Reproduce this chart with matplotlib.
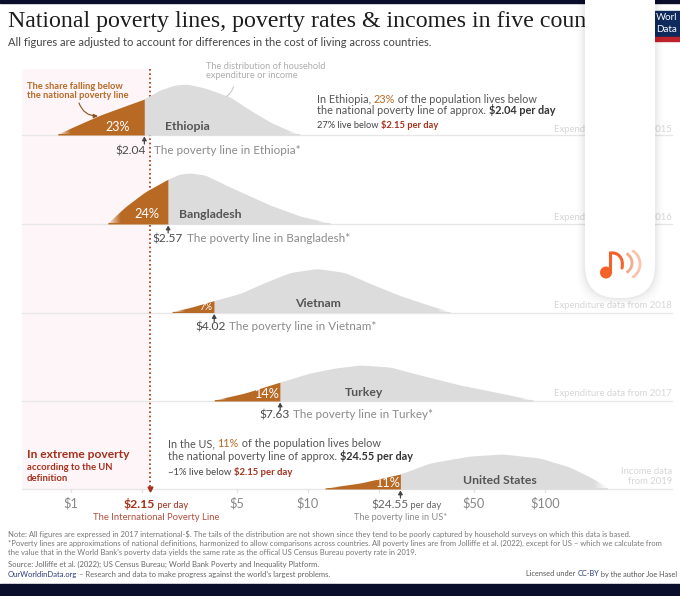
#!/usr/bin/env python3
# -*- coding: utf-8 -*-
import numpy as np
import matplotlib
matplotlib.use("Agg")
import matplotlib.pyplot as plt
from matplotlib.colors import to_rgb
from matplotlib.patches import FancyBboxPatch, Rectangle, Arc, Circle, PathPatch
from matplotlib.path import Path

countries = ["Ethiopia", "Bangladesh", "Vietnam", "Turkey", "United States"]
poverty_lines = [2.04, 2.57, 4.02, 7.63, 24.55]
poverty_rates = ["23%", "24%", "7%", "14%", "11%"]
data_notes = ["Expenditure data from 2015", "Expenditure data from 2016", "Expenditure data from 2018",
              "Expenditure data from 2017", "Income data\nfrom 2019"]

# income ($/day) and height of the density
eth_income = [0.88, 1.02, 1.33, 1.69, 2.04, 2.37, 2.75, 3.08, 3.68, 4.69, 5.69, 6.91, 8.4, 9.25]
eth_height = [1, 8, 20, 29, 36, 45, 50, 51, 47, 38, 25, 13, 4, 1]
bgd_income = [1.43, 1.69, 2.05, 2.57, 2.88, 3.18, 3.68, 4.69, 5.69, 6.91, 9.25, 12.4]
bgd_height = [1, 17, 32, 45, 50, 51, 49, 37, 28, 19, 8, 1]
vnm_income = [2.67, 3.18, 4.02, 5.16, 6.58, 8.39, 10.9, 14.3, 18.3, 24.4, 32.7, 39.7]
vnm_height = [1, 5, 12, 19, 30, 40, 44, 40, 29, 17, 7, 1]
tur_income = [4.02, 5.42, 7.63, 10.2, 13.0, 16.6, 22.2, 29.7, 43.8, 64.6, 89.0]
tur_height = [1, 8, 19, 28, 33, 36, 34, 26, 16, 8, 1]
usa_income = [11.8, 16.6, 24.55, 32.7, 48.3, 66.5, 95.0, 127.0, 155.0, 183.0]
usa_height = [1, 6, 15, 26, 33, 35, 31, 22, 12, 2]
incomes = [eth_income, bgd_income, vnm_income, tur_income, usa_income]
heights = [eth_height, bgd_height, vnm_height, tur_height, usa_height]

tick_values = [1, 2, 5, 10, 20, 50, 100]
tick_labels = {1: "$1", 5: "$5", 10: "$10", 50: "$50", 100: "$100"}
ipl = 2.15

# layout
W, H = 680, 596
baselines = [135, 224, 312.5, 401, 489]
GREY = "#dcdcdc"
BROWN = "#b86a25"
RED = "#a5301c"
DARK = "#4a4a4a"
MID = "#8a8a8a"
NAVY = "#0b0e2a"
PINK = "#fdf5f7"
FONT = "Lato"

plt.rcParams["font.family"] = [FONT, "DejaVu Sans"]
fig = plt.figure(figsize=(W / 100, H / 100), dpi=100)

# income axis: log scale, $1 at x=71 and $100 at x=545
ax = fig.add_axes([0, 0, 1, 1])
ax.set_xscale("log")
ax.set_xlim(10 ** (-71 / 237), 10 ** ((W - 71) / 237))
ax.set_ylim(H, 0)
ax.axis("off")

# pixel layer for the text
ov = fig.add_axes([0, 0, 1, 1])
ov.axis("off")
ov.patch.set_alpha(0)

ax.axvspan(10 ** ((22 - 71) / 237), ipl, ymin=1 - baselines[-1] / H, ymax=1 - 69 / H, color=PINK, lw=0, zorder=0)


def to_px(income):
    return ax.transData.transform((income, 0))[0]


def tail_fade(x0, x1, y0, y1, bg, rising):
    # bg coloured gradient over the end of a ridge
    img = np.zeros((1, 64, 4))
    img[..., :3] = to_rgb(bg)
    img[..., 3] = np.linspace(1, 0, 64) if rising else np.linspace(0, 1, 64)
    ov.imshow(img, extent=(x0, x1, y0, y1), aspect="auto", interpolation="bilinear", zorder=3)


def draw_ridge(inc, hgt, line, base):
    # smoothed only for drawing, the values stay the ones in the lists
    lx = np.log10(inc)
    g = np.union1d(np.linspace(lx[0], lx[-1], 400), [np.log10(line)])
    h = np.interp(g, lx, hgt)
    k = 13
    pad = np.r_[np.full(k, h[0]), h, np.full(k, h[-1])]
    h = np.convolve(pad, np.ones(k) / k, mode="same")[k:-k]
    x = 10 ** g
    low = g <= np.log10(line) + 1e-9
    high = g >= np.log10(line) - 1e-9
    ax.fill_between(x[low], base, base - h[low], color=BROWN, lw=0, zorder=3)
    ax.fill_between(x[high], base, base - h[high], color=GREY, lw=0, zorder=3)
    left, right = to_px(inc[0]), to_px(inc[-1])
    bg = PINK if inc[0] < ipl else "white"
    tail_fade(left - 1, left + 13, base - 0.6, base - 12, bg, True)
    tail_fade(right - 13, right + 1, base - 0.6, base - 12, "white", False)


for inc, hgt, line, base in zip(incomes, heights, poverty_lines, baselines):
    draw_ridge(inc, hgt, line, base)
    ax.plot([10 ** ((22 - 71) / 237), 10 ** ((672 - 71) / 237)], [base, base], color="#e6e6e6", lw=0.9, zorder=1)
    ax.annotate("", xy=(line, base + 1.5), xytext=(line, base + 9),
                arrowprops=dict(arrowstyle="-|>,head_width=0.13,head_length=0.22", color="#444444", lw=0.9, shrinkA=0, shrinkB=0),
                zorder=4)

ov.set_xlim(0, W)
ov.set_ylim(H, 0)

# ticks under the last baseline
for v in tick_values:
    ax.plot([v, v], [489, 492], color="#e2e2e2", lw=0.9, zorder=1)

# international poverty line, it runs behind the ridges
ax.plot([ipl, ipl], [69, 489], color=RED, lw=1.2, ls=(0, (1, 1.6)), zorder=2)
ax.plot([ipl], [489], marker="v", ms=3.5, color=RED, zorder=5)


def T(x, y, s, size=9, color=DARK, weight="normal", ha="left", va="center", **kw):
    return ov.text(x, y, s, fontsize=size, color=color, fontweight=weight, ha=ha, va=va, **kw)


def runs(x, y, parts, size=9):
    # several colours on one line, a part may bring its own size
    r = fig.canvas.get_renderer()
    inv = ov.transData.inverted()
    for part in parts:
        s, color, weight = part[:3]
        fs = part[3] if len(part) > 3 else size
        t = T(x, y, s, size=fs, color=color, weight=weight, va="baseline")
        bb = t.get_window_extent(r)
        x = inv.transform((bb.x1, 0))[0]


# title and subtitle
T(8, 22, "National poverty lines, poverty rates & incomes in five countries", size=17.2, color="#1d1d1d",
  family=["Liberation Serif", "DejaVu Serif"], clip_on=True)
T(8, 42, "All figures are adjusted to account for differences in the cost of living across countries.", size=8, color="#444444")

# percent labels and names inside the ridges
pct_pos = [(118, 127, 9), (147, 214.5, 9.2), (206, 308, 6.8), (266, 394, 9.2), (387, 483, 9.2)]
name_pos = [(165, 127, "left"), (179, 214.5, "left"), (295, 303.5, "left"), (345, 392, "left"), (500, 481, "center")]
for pct, (px, py, fs), name, (nx, ny, nha) in zip(poverty_rates, pct_pos, countries, name_pos):
    T(px, py, pct, size=fs, color="white", ha="center", zorder=6)
    T(nx, ny, name, size=8.8, color="#555555", weight="bold", ha=nha, zorder=6)

# poverty line labels
line_pos = [(146, 151, 154), (183, 239, 187), (226, 327, 229), (290, 415, 293)]
for line, name, (vx, vy, lx) in zip(poverty_lines, countries, line_pos):
    T(vx, vy, f"${line:.2f}", size=8.6, color=DARK, ha="right")
    T(lx, vy, f"The poverty line in {name}*", size=8.4, color=MID)

# data notes on the right
note_y = [129, 218, 306, 394, 476.5]
for note, y in zip(data_notes, note_y):
    T(672, y, note, size=6.85, color="#d6d6d6", ha="right", linespacing=1.15)

# annotations
T(206, 71, "The distribution of household\nexpenditure or income", size=6.7, color="#adadad", linespacing=1.1)
ov.annotate("", xy=(224, 98), xytext=(234, 84),
            arrowprops=dict(arrowstyle="-", color="#c4c4c4", lw=0.7, connectionstyle="arc3,rad=-0.25"))
T(27, 91, "The share falling below\nthe national poverty line", size=6.7, color=BROWN, weight="bold", linespacing=1.1)
ov.annotate("", xy=(98, 116), xytext=(79, 103),
            arrowprops=dict(arrowstyle="-|>,head_width=0.12,head_length=0.25", color="#8a5220", lw=0.8,
                            connectionstyle="arc3,rad=0.35", shrinkA=0, shrinkB=0))

T(27, 455, "In extreme poverty", size=8.65, color=RED, weight="bold")
T(27, 467.5, "according to the UN", size=6.8, color=RED, weight="bold")
T(27, 478.5, "definition", size=6.8, color=RED, weight="bold")

runs(317, 103, [("In Ethiopia, ", "#555555", "normal"), ("23%", BROWN, "normal"),
                (" of the population lives below", "#555555", "normal")], size=7.8)
runs(317, 114, [("the national poverty line of approx. ", "#555555", "normal"), ("$2.04 per day", "#333333", "bold")], size=7.8)
runs(317, 128.5, [("27% live below ", "#444444", "normal"), ("$2.15 per day", RED, "bold")], size=6.7)
runs(168, 447, [("In the US, ", "#555555", "normal"), ("11%", BROWN, "normal"),
                (" of the population lives below", "#555555", "normal")], size=7.8)
runs(168, 460, [("the national poverty line of approx. ", "#555555", "normal"), ("$24.55 per day", "#333333", "bold")], size=7.8)
runs(168, 475, [("~1% live below ", "#444444", "normal"), ("$2.15 per day", RED, "bold")], size=6.8)

# axis labels
for v, lab in tick_labels.items():
    T(to_px(v), 503.5, lab, size=9.2, color="#888888", ha="center")
runs(124, 508, [("$2.15", RED, "bold", 8.8), (" per day", RED, "normal", 6.8)])
T(156, 517.5, "The International Poverty Line", size=6.8, color=RED, ha="center", alpha=0.85)
runs(371, 508, [("$24.55", "#666666", "normal", 8.6), (" per day", "#666666", "normal", 6.8)])
T(400.5, 517.5, "The poverty line in US*", size=6.6, color=MID, ha="center")

# notes
note_lines = [
    "Note: All figures are expressed in 2017 international-$. The tails of the distribution are not shown since they tend to be poorly captured by household surveys on which this data is based.",
    "*Poverty lines are approximations of national definitions, harmonized to allow comparisons across countries. All poverty lines are from Jolliffe et al. (2022), except for US – which we calculate from",
    "the value that in the World Bank's poverty data yields the same rate as the offical US Census Bureau poverty rate in 2019.",
]
for y, s in zip([534, 543, 552], note_lines):
    T(8, y, s, size=5.47, color="#777777")
T(8, 564, "Source: Jolliffe et al. (2022); US Census Bureau; World Bank Poverty and Inequality Platform.", size=5.5, color="#666666")
runs(8, 576.5, [("OurWorldinData.org", "#2b3a7a", "normal"),
                (" – Research and data to make progress against the world's largest problems.", "#666666", "normal")], size=5.5)
runs(526, 576.5, [("Licensed under ", "#555555", "normal"), ("CC-BY", "#2b3a7a", "normal"),
                  (" by the author Joe Hasel", "#555555", "normal")], size=5.33)

# page bars
ov.add_patch(Rectangle((0, 0), W, 2.6, color=NAVY, zorder=8))
ov.add_patch(Rectangle((0, 584), W, 12, color=NAVY, zorder=8))

# logo
ov.add_patch(Rectangle((655, 11), 25, 26, color="#0f2a5c", zorder=8))
ov.add_patch(Rectangle((655, 37), 25, 4, color="#c0222b", zorder=8))
T(656, 18, "Worl", size=7, color="white", zorder=9)
T(656, 30, "Data", size=7, color="white", zorder=9)

# overlay panel with the music icon
for grow, a in [(8, 0.012), (6, 0.015), (4, 0.02), (2, 0.03)]:
    ov.add_patch(FancyBboxPatch((585 - grow, -40), 70 + 2 * grow, 338 + grow, boxstyle="round,pad=0,rounding_size=34",
                                fc="black", ec="none", alpha=a, zorder=10))
ov.add_patch(FancyBboxPatch((585, -40), 70, 338, boxstyle="round,pad=0,rounding_size=33", fc="white", ec="none", zorder=11))
ORANGE = "#f4622a"
ov.add_patch(Circle((606, 272.5), 6, fc=ORANGE, ec="none", zorder=12))
ov.add_patch(PathPatch(Path([(610.5, 272), (610.5, 253), (618, 252), (624, 258), (622, 268)],
                            [Path.MOVETO, Path.LINETO, Path.CURVE4, Path.CURVE4, Path.CURVE4]),
                       fc="none", ec=ORANGE, lw=2.2, capstyle="round", zorder=12))
ov.add_patch(Arc((621, 263), 22, 22, theta1=-60, theta2=60, color="#f7a98c", lw=2, zorder=12))
ov.add_patch(Arc((626, 264), 28, 30, theta1=-65, theta2=65, color="#f9c3ad", lw=2, zorder=12))

fig.savefig("out.png", dpi=100)
